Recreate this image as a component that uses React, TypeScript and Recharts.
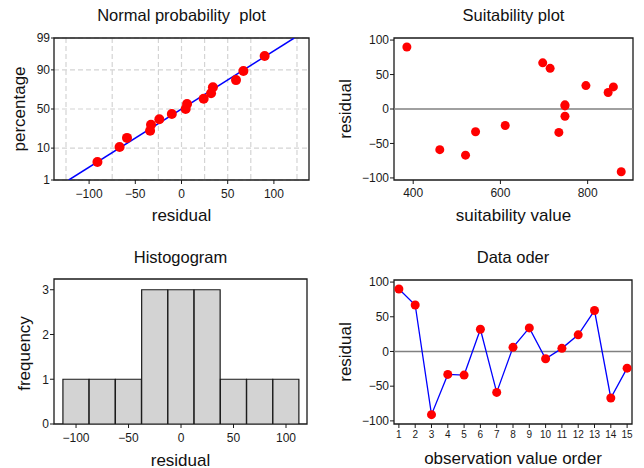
import {
  ScatterChart,
  Scatter,
  ComposedChart,
  Bar,
  LineChart,
  Line,
  XAxis,
  YAxis,
  CartesianGrid,
  ReferenceLine,
  ReferenceArea,
} from "recharts"

// residuals in observation order
const observation = [1, 2, 3, 4, 5, 6, 7, 8, 9, 10, 11, 12, 13, 14, 15]
const residuals = [90, 67, -91, -33, -34, 32, -59, 6, 34, -10.5, 4.5, 24, 59, -67, -24]
const fittedValues = [385.5, 697, 877, 543, 734, 859, 461, 748, 796, 748, 748, 847, 714, 520, 611]

// normal probability plot (percentages for the sorted residuals)
const normalPct = [4.1, 10.7, 17.2, 23.8, 30.3, 36.9, 43.4, 50, 56.6, 63.1, 69.7, 76.2, 82.8, 89.3, 95.9]
const pctTicks = [1, 10, 50, 90, 99]
const refLineRes = [-122, 122]
const refLinePct = [1, 99]
const residualGrid = [-125, -100, -75, -50, -25, 0, 25, 50, 75, 100, 125]
const residualTicks = [-100, -50, 0, 50, 100]

// histogram
const binMids = [-100, -75, -50, -25, 0, 25, 50, 75, 100]
const binCounts = [1, 1, 1, 3, 3, 3, 1, 1, 1]
const freqTicks = [0, 1, 2, 3]

const fitTicks = [400, 600, 800]

const FONT = '"Liberation Sans", Arial, sans-serif'
const INK = "#1a1a1a"

// inverse standard normal CDF (Acklam)
function probit(p: number): number {
  const a = [-39.69683028665376, 220.9460984245205, -275.9285104469687, 138.357751867269, -30.66479806614716, 2.506628277459239]
  const b = [-54.47609879822406, 161.5858368580409, -155.6989798598866, 66.80131188771972, -13.28068155288572]
  const c = [-0.007784894002430293, -0.3223964580411365, -2.400758277161838, -2.549732539343734, 4.374664141464968, 2.938163982698783]
  const d = [0.007784695709041462, 0.3224671290700398, 2.445134137142996, 3.754408661907416]
  const plow = 0.02425
  if (p < plow || p > 1 - plow) {
    const q = Math.sqrt(-2 * Math.log(p < plow ? p : 1 - p))
    const v =
      (((((c[0] * q + c[1]) * q + c[2]) * q + c[3]) * q + c[4]) * q + c[5]) /
      ((((d[0] * q + d[1]) * q + d[2]) * q + d[3]) * q + 1)
    return p < plow ? v : -v
  }
  const q = p - 0.5
  const r = q * q
  return (
    ((((((a[0] * r + a[1]) * r + a[2]) * r + a[3]) * r + a[4]) * r + a[5]) * q) /
    (((((b[0] * r + b[1]) * r + b[2]) * r + b[3]) * r + b[4]) * r + 1)
  )
}

const zTicks = pctTicks.map((p) => probit(p / 100))
const sortedResiduals = [...residuals].sort((x, y) => x - y)
const normalData = sortedResiduals.map((res, i) => ({ res, z: probit(normalPct[i] / 100) }))
const refLineData = refLineRes.map((res, i) => ({ res, z: probit(refLinePct[i] / 100) }))
const suitData = fittedValues.map((fit, i) => ({ fit, res: residuals[i] }))
const histData = binMids.map((mid, i) => ({ mid, count: binCounts[i] }))
const orderData = observation.map((obs, i) => ({ obs, res: residuals[i] }))

// axis ranges of the four panels
const normX = [-138, 138]
const normY = [zTicks[0], zTicks[zTicks.length - 1]]
const suitX = [356, 904]
const suitY = [-103, 103]
const histX = [-121, 120]
const histY = [0, 3.24]
const orderX = [0.7, 15.3]
const orderY = [-104.5, 103]

const minus = (v: number) => String(v).replace("-", "\u2212")
const pctLabel = (v: number) => {
  const i = zTicks.findIndex((z) => Math.abs(z - v) < 1e-6)
  return i >= 0 ? String(pctTicks[i]) : ""
}

function PanelTitle({ viewBox, text, baseY }: any) {
  if (!viewBox) return null
  return (
    <text x={viewBox.x + viewBox.width / 2} y={baseY} textAnchor="middle" fontSize={16.5} fill="#111" style={{ whiteSpace: "pre" }}>
      {text}
    </text>
  )
}

function XTitle({ viewBox, text, baseY }: any) {
  if (!viewBox) return null
  return (
    <text x={viewBox.x + viewBox.width / 2} y={baseY} textAnchor="middle" fontSize={17} fill="#111">
      {text}
    </text>
  )
}

function YTitle({ viewBox, text, baseX, shift = 0 }: any) {
  if (!viewBox) return null
  const cy = viewBox.y + viewBox.height / 2 + shift
  return (
    <text x={baseX} y={cy} transform={`rotate(-90 ${baseX} ${cy})`} textAnchor="middle" fontSize={17} fill="#111">
      {text}
    </text>
  )
}

// plot frame plus panel title
function frame(x: number[], y: number[], title: string, baseY: number) {
  return (
    <ReferenceArea
      x1={x[0]}
      x2={x[1]}
      y1={y[0]}
      y2={y[1]}
      fill="none"
      fillOpacity={0}
      stroke={INK}
      strokeWidth={1.3}
      ifOverflow="visible"
      label={<PanelTitle text={title} baseY={baseY} />}
    />
  )
}

const Dot = (r: number) => (props: any) => <circle cx={props.cx} cy={props.cy} r={r} fill="#ff0000" />
const NoDot = () => <g />

const tickStyle = { fontSize: 12, fill: INK }
const panel = (left: number, top: number) => ({ position: "absolute" as const, left, top, width: 322, height: 234 })

export default function App() {
  return (
    <div style={{ position: "absolute", left: 0, top: 0, width: 644, height: 468, background: "#fff", fontFamily: FONT }}>
      {/* normal probability plot */}
      <div style={panel(0, 0)}>
        <ScatterChart width={322} height={234} margin={{ top: 38, right: 13, bottom: 9, left: 0 }}>
          <CartesianGrid
            stroke="#d4d4d4"
            strokeWidth={1.2}
            strokeDasharray="5 3"
            verticalValues={residualGrid}
            horizontalValues={zTicks}
          />
          <XAxis
            type="number"
            dataKey="res"
            domain={normX}
            allowDataOverflow
            ticks={residualTicks}
            tickFormatter={minus}
            axisLine={false}
            tickLine={{ stroke: INK }}
            tickSize={4}
            tickMargin={5}
            tick={tickStyle}
            height={45}
            label={<XTitle text="residual" baseY={220.5} />}
          />
          <YAxis
            type="number"
            dataKey="z"
            domain={normY}
            allowDataOverflow
            ticks={zTicks}
            tickFormatter={pctLabel}
            axisLine={false}
            tickLine={{ stroke: INK }}
            tickSize={3}
            tickMargin={1}
            tick={tickStyle}
            width={54}
            label={<YTitle text="percentage" baseX={24.7} />}
          />
          {frame(normX, normY, "Normal probability  plot", 20.5)}
          <Scatter data={refLineData} line={{ stroke: "#0000ff", strokeWidth: 1.5 }} shape={NoDot} isAnimationActive={false} />
          <Scatter data={normalData} shape={Dot(5)} isAnimationActive={false} />
        </ScatterChart>
      </div>

      {/* suitability plot */}
      <div style={panel(322, 0)}>
        <ScatterChart width={322} height={234} margin={{ top: 38, right: 11, bottom: 9, left: 0 }}>
          <XAxis
            type="number"
            dataKey="fit"
            domain={suitX}
            allowDataOverflow
            ticks={fitTicks}
            axisLine={false}
            tickLine={{ stroke: INK }}
            tickSize={4}
            tickMargin={4}
            tick={tickStyle}
            height={45}
            label={<XTitle text="suitability value" baseY={220.5} />}
          />
          <YAxis
            type="number"
            dataKey="res"
            domain={suitY}
            allowDataOverflow
            ticks={residualTicks}
            tickFormatter={minus}
            axisLine={false}
            tickLine={{ stroke: INK }}
            tickSize={4}
            tickMargin={1}
            tick={tickStyle}
            width={72}
            label={<YTitle text="residual" baseX={29.3} />}
          />
          {frame(suitX, suitY, "Suitability plot", 20.5)}
          <ReferenceLine y={0} stroke="#808080" strokeWidth={1.5} />
          <Scatter data={suitData} shape={Dot(4.5)} isAnimationActive={false} />
        </ScatterChart>
      </div>

      {/* histogram of residuals */}
      <div style={panel(0, 234)}>
        <ComposedChart width={322} height={234} data={histData} barCategoryGap={0} margin={{ top: 45, right: 15, bottom: 0, left: 0 }}>
          <XAxis
            type="number"
            dataKey="mid"
            domain={histX}
            allowDataOverflow
            ticks={residualTicks}
            tickFormatter={minus}
            axisLine={false}
            tickLine={{ stroke: INK }}
            tickSize={4}
            tickMargin={5}
            tick={tickStyle}
            height={44}
            label={<XTitle text="residual" baseY={231.5} />}
          />
          <YAxis
            type="number"
            domain={histY}
            allowDataOverflow
            ticks={freqTicks}
            axisLine={false}
            tickLine={{ stroke: INK }}
            tickSize={4}
            tickMargin={1}
            tick={tickStyle}
            width={54}
            label={<YTitle text="frequency" baseX={29.7} shift={2} />}
          />
          <Bar dataKey="count" fill="#d3d3d3" stroke={INK} strokeWidth={1.2} isAnimationActive={false} />
          {frame(histX, histY, "Histogogram", 28.5)}
        </ComposedChart>
      </div>

      {/* residuals in data order */}
      <div style={panel(322, 234)}>
        <LineChart width={322} height={234} data={orderData} margin={{ top: 46, right: 12, bottom: 0, left: 0 }}>
          <XAxis
            type="number"
            dataKey="obs"
            domain={orderX}
            allowDataOverflow
            ticks={observation}
            interval={0}
            axisLine={false}
            tickLine={{ stroke: INK }}
            tickSize={4}
            tickMargin={3}
            tick={{ fontSize: 10, fill: INK }}
            height={44}
            label={<XTitle text="observation value order" baseY={230} />}
          />
          <YAxis
            type="number"
            domain={orderY}
            allowDataOverflow
            ticks={residualTicks}
            tickFormatter={minus}
            axisLine={false}
            tickLine={{ stroke: INK }}
            tickSize={4}
            tickMargin={1}
            tick={tickStyle}
            width={72}
            label={<YTitle text="residual" baseX={29.3} />}
          />
          {frame(orderX, orderY, "Data oder", 28.5)}
          <ReferenceLine y={0} stroke="#808080" strokeWidth={1.5} />
          <Line
            dataKey="res"
            stroke="#0000ff"
            strokeWidth={1.3}
            dot={{ r: 4.5, fill: "#ff0000", stroke: "none" }}
            activeDot={false}
            isAnimationActive={false}
          />
        </LineChart>
      </div>
    </div>
  )
}
